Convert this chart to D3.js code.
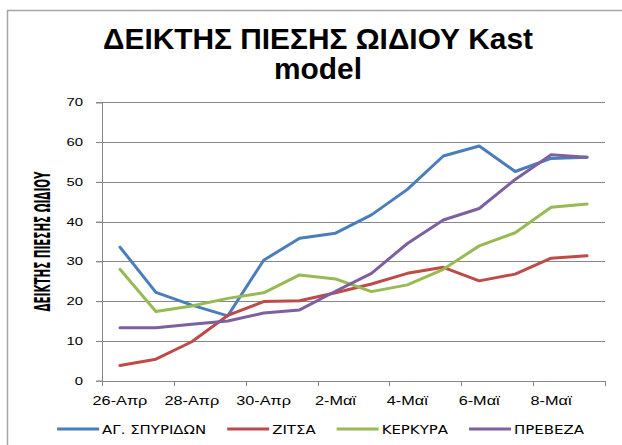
<!DOCTYPE html>
<html>
<head>
<meta charset="utf-8">
<style>
    body {
        margin: 0;
        background: #ffffff;
    }
    svg {
        display: block;
        font-family: "DejaVu Sans", sans-serif;
    }
    .grid line {
        stroke: #878787;
        stroke-width: 1px;
        shape-rendering: crispEdges;
    }
    .axis-line {
        stroke: #878787;
        stroke-width: 1px;
        shape-rendering: crispEdges;
    }
    .stretch {
        transform-box: fill-box;
        transform-origin: center;
    }
    .series {
        fill: none;
        stroke-width: 3px;
        stroke-linejoin: round;
        stroke-linecap: round;
    }
</style>
</head>
<body>
<svg id="chart" width="622" height="445"></svg>
<script src="https://d3js.org/d3.v7.min.js"></script>
<script>
// data
var dates = ["26-Απρ", "27-Απρ", "28-Απρ", "29-Απρ", "30-Απρ", "1-Μαϊ", "2-Μαϊ",
             "3-Μαϊ", "4-Μαϊ", "5-Μαϊ", "6-Μαϊ", "7-Μαϊ", "8-Μαϊ", "9-Μαϊ"];
var agSpyridon = [33.6, 22.2, 19.0, 16.3, 30.3, 35.8, 37.1, 41.7, 48.1, 56.5, 59.0, 52.6, 55.9, 56.2];
var zitsa      = [3.8, 5.4, 9.8, 16.4, 19.9, 20.1, 22.1, 24.3, 27.0, 28.5, 25.1, 26.8, 30.8, 31.4];
var kerkyra    = [28.0, 17.4, 18.8, 20.7, 22.1, 26.6, 25.6, 22.4, 24.1, 28.0, 33.9, 37.2, 43.6, 44.4];
var preveza    = [13.3, 13.3, 14.2, 15.0, 17.0, 17.8, 22.5, 27.0, 34.5, 40.4, 43.3, 50.6, 56.8, 56.2];
var seriesNames = ["ΑΓ. ΣΠΥΡΙΔΩΝ", "ΖΙΤΣΑ", "ΚΕΡΚΥΡΑ", "ΠΡΕΒΕΖΑ"];
var seriesColors = ["#4a7ebb", "#be4b48", "#98b954", "#7d60a0"];
var yTicks = [0, 10, 20, 30, 40, 50, 60, 70];
var titleLines = ["ΔΕΙΚΤΗΣ ΠΙΕΣΗΣ ΩΙΔΙΟΥ  Kast", "model"];
var yTitle = "ΔΕΙΚΤΗΣ ΠΙΕΣΗΣ  ΩΙΔΙΟΥ";

var allSeries = [agSpyridon, zitsa, kerkyra, preveza];

var svg = d3.select("#chart");
var plot = {left: 102, right: 605, top: 102.3, bottom: 380.7};

// chart frame
svg.append("rect")
    .attr("x", 7.5).attr("y", 10.5)
    .attr("width", 640).attr("height", 460)
    .attr("fill", "#fff")
    .attr("stroke", "#a6a6a6")
    .attr("stroke-width", 1.5);

var x = d3.scaleBand().domain(dates).range([plot.left, plot.right]);
var y = d3.scaleLinear().domain([0, 70]).range([plot.bottom, plot.top]);

// title
svg.append("g").selectAll("text")
    .data(titleLines)
    .join("text")
    .attr("x", 318)
    .attr("y", function(d, i) { return 49 + i * 30; })
    .attr("text-anchor", "middle")
    .attr("class", "stretch")
    .style("font-family", "'Liberation Sans', Arial, sans-serif")
    .style("font-weight", "bold")
    .style("font-size", "29px")
    .style("transform", "scaleX(1.03)")
    .attr("fill", "#000")
    .text(function(d) { return d; });

// gridlines
svg.append("g").attr("class", "grid")
    .selectAll("line")
    .data(yTicks.filter(function(t) { return t > 0; }))
    .join("line")
    .attr("x1", plot.left - 6).attr("x2", plot.right)
    .attr("y1", function(d) { return Math.round(y(d)) + 0.5; })
    .attr("y2", function(d) { return Math.round(y(d)) + 0.5; });

// y axis
var yAxis = d3.axisLeft(y).tickValues(yTicks).tickSize(6).tickPadding(13);
var gy = svg.append("g")
    .attr("transform", "translate(" + plot.left + ",0)")
    .call(yAxis);
gy.select(".domain").attr("stroke", "#878787");
gy.selectAll(".tick line").attr("stroke", "#878787");
gy.selectAll(".tick text")
    .attr("class", "stretch")
    .style("font-size", "11px")
    .style("transform", "scaleX(1.35)")
    .style("transform-origin", "right center")
    .attr("fill", "#000");

// x axis: labels under every other category
var xAxis = d3.axisBottom(x)
    .tickValues(dates.filter(function(d, i) { return i % 2 === 0; }))
    .tickSize(0).tickPadding(15);
var gx = svg.append("g")
    .attr("transform", "translate(0," + plot.bottom + ")")
    .call(xAxis);
gx.select(".domain").remove();
gx.selectAll(".tick text")
    .attr("class", "stretch")
    .style("font-size", "12.5px")
    .style("transform", "scaleX(1.3)")
    .attr("fill", "#000");

svg.append("line").attr("class", "axis-line")
    .attr("x1", plot.left).attr("x2", plot.right)
    .attr("y1", Math.round(plot.bottom) + 0.5).attr("y2", Math.round(plot.bottom) + 0.5);

var boundaries = dates.filter(function(d, i) { return i % 2 === 0; })
    .map(function(d) { return x(d); }).concat([plot.right]);
svg.append("g").selectAll("line")
    .data(boundaries)
    .join("line").attr("class", "axis-line")
    .attr("x1", function(d) { return Math.round(d) + 0.5; })
    .attr("x2", function(d) { return Math.round(d) + 0.5; })
    .attr("y1", plot.bottom).attr("y2", plot.bottom + 5);

// y title
svg.append("text")
    .attr("transform", "translate(49.5,241.5) rotate(-90) scale(1,1.8)")
    .attr("text-anchor", "middle")
    .style("font-family", "'Liberation Sans Narrow', 'DejaVu Sans Condensed', sans-serif")
    .style("font-weight", "bold")
    .style("font-size", "11.5px")
    .attr("fill", "#000")
    .text(yTitle);

// series lines
var line = d3.line()
    .x(function(d, i) { return x(dates[i]) + x.bandwidth() / 2; })
    .y(function(d) { return y(d); });

svg.append("g").selectAll("path")
    .data(allSeries)
    .join("path")
    .attr("class", "series")
    .attr("stroke", function(d, i) { return seriesColors[i]; })
    .attr("d", line);

// legend
var legend = svg.append("g").attr("transform", "translate(0,429)");
var items = legend.selectAll("g")
    .data(seriesNames)
    .join("g");
items.append("line")
    .attr("x1", 0).attr("x2", 42)
    .attr("stroke", function(d, i) { return seriesColors[i]; })
    .attr("stroke-width", 3);
items.append("text")
    .attr("x", 45)
    .attr("dy", "0.35em")
    .attr("class", "stretch")
    .style("font-size", "13px")
    .style("transform", "scaleX(1.15)")
    .style("transform-origin", "left center")
    .attr("fill", "#000")
    .text(function(d) { return d; });

var widths = [];
items.select("text").each(function() { widths.push(45 + this.getComputedTextLength() * 1.15); });
var gap = 21;
var total = d3.sum(widths) + gap * (widths.length - 1);
var cursor = 320.5 - total / 2;
items.attr("transform", function(d, i) {
    var t = "translate(" + cursor + ",0)";
    cursor += widths[i] + gap;
    return t;
});
</script>
</body>
</html>
